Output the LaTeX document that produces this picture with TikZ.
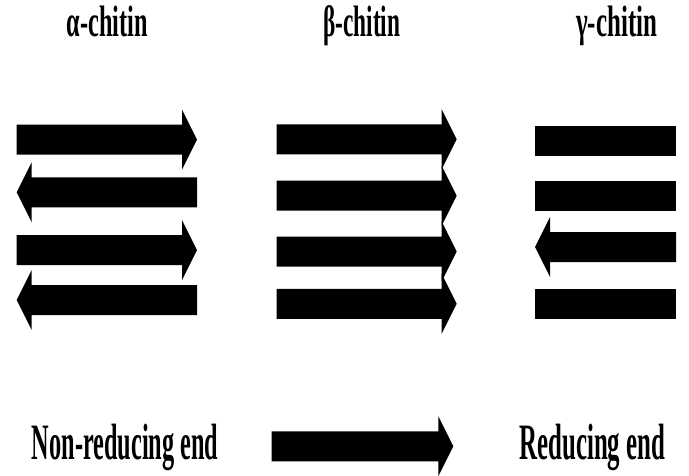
\documentclass[tikz,border=0pt]{standalone}
\usepackage{fontspec}
\setmainfont{Liberation Serif}
\usepackage{graphicx}
% right-pointing arrow: body start, head base, tip, centre y
\newcommand\chitArrowR[4]{%
  \fill[chitfill] (#1,#4-15) -- (#2,#4-15) -- (#2,#4-30) -- (#3,#4) -- (#2,#4+30) -- (#2,#4+15) -- (#1,#4+15) -- cycle;}
% left-pointing arrow: body end (right), head base, tip, centre y
\newcommand\chitArrowL[4]{%
  \fill[chitfill] (#3,#4) -- (#2,#4-30) -- (#2,#4-15) -- (#1,#4-15) -- (#1,#4+15) -- (#2,#4+15) -- (#2,#4+30) -- cycle;}
% plain bar: left, right, centre y
\newcommand\chitBar[3]{%
  \fill[chitfill] (#1,#3-15) rectangle (#2,#3+15);}
\tikzset{
  chitfill/.style={black},
  lbl/.style={inner sep=0pt, anchor=base west},
}
\begin{document}
\begin{tikzpicture}[x=1pt,y=-1pt]
\useasboundingbox[fill=white] (0,0) rectangle (689,475);
% titles
\node[lbl] (ta) at (66.5,36.7) {\resizebox{81pt}{\height}{\fontsize{44}{44}\selectfont\bfseries α-chitin}};
\node[lbl] (tb) at (323,36.7) {\resizebox{77pt}{\height}{\fontsize{44}{44}\selectfont\bfseries β-chitin}};
\node[lbl] (tg) at (576,36.7) {\resizebox{81pt}{\height}{\fontsize{44}{44}\selectfont\bfseries γ-chitin}};
% alpha-chitin
\chitArrowR{16.7}{182}{197}{139.5}
\chitArrowL{197}{31.7}{16.7}{192.3}
\chitArrowR{16.7}{182}{197}{250}
\chitArrowL{197}{31.7}{16.7}{300}
% beta-chitin
\chitArrowR{276.7}{441.7}{456.7}{139.3}
\chitArrowR{276.7}{441.7}{456.7}{195.7}
\chitArrowR{276.7}{441.7}{456.7}{251.5}
\chitArrowR{276.7}{441.7}{456.7}{303.8}
% gamma-chitin
\chitBar{535}{676}{141.3}
\chitBar{535}{676}{195.8}
\chitArrowL{676}{550}{535}{247}
\chitBar{535}{676}{303.8}
% legend
\node[lbl] (nr) at (31.7,459) {\resizebox{186.6pt}{\height}{\fontsize{51}{51}\selectfont\bfseries Non-reducing end}};
\node[lbl] (re) at (519.3,459) {\resizebox{145.7pt}{\height}{\fontsize{51}{51}\selectfont\bfseries Reducing end}};
\chitArrowR{271.7}{438.3}{453.3}{446.3}
\end{tikzpicture}
\end{document}
